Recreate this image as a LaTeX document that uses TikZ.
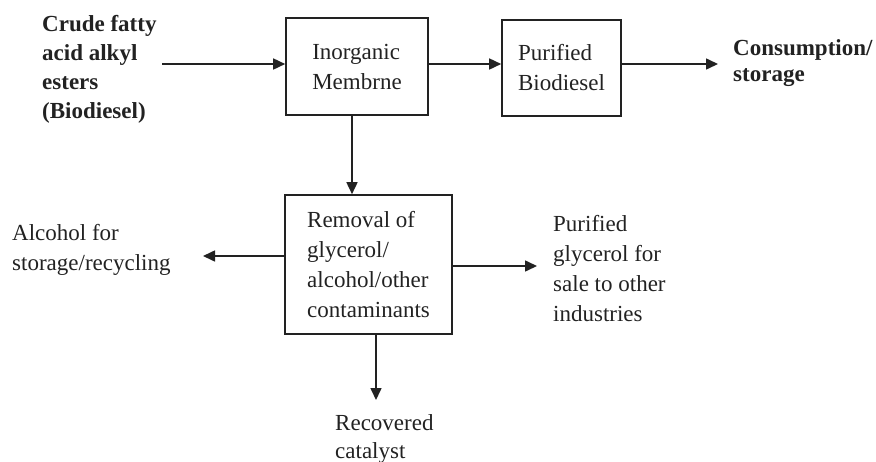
\documentclass[tikz,border=0pt]{standalone}
\usepackage{fontspec}
\setmainfont{Liberation Serif}
\usetikzlibrary{arrows.meta,calc}
\definecolor{ink}{HTML}{222222}
\begin{document}
\begin{tikzpicture}[x=1pt,y=-1pt,
  every node/.style={text=ink},
  box/.style={draw=ink,line width=1.6pt,inner sep=0pt,align=left,font=\fontsize{23}{30}\selectfont},
  lbl/.style={inner sep=0pt,align=left,anchor=west},
  arr/.style={draw=ink,line width=1.6pt,-{Triangle[length=12pt,width=11pt]}}]
\useasboundingbox (0,0) rectangle (876,461);
% boxes
\node[box,minimum width=142pt,minimum height=97pt] (b1) at (357,66.5) {Inorganic\\Membrne};
\node[box,minimum width=119pt,minimum height=96pt] (b2) at (561.5,68) {Purified\\Biodiesel};
\node[box,minimum width=167pt,minimum height=139pt] (b3) at (368.5,264.5) {Removal of\\glycerol/\\alcohol/other\\contaminants};
% labels
\node[lbl,font=\bfseries\fontsize{23}{29}\selectfont] (crude) at (42,69) {Crude fatty\\acid alkyl\\esters\\(Biodiesel)};
\node[lbl,font=\bfseries\fontsize{23}{26}\selectfont] (cons) at (733,63) {Consumption/\\storage};
\node[lbl,font=\fontsize{23}{30}\selectfont] (alc) at (12,249.7) {Alcohol for\\storage/recycling};
\node[lbl,font=\fontsize{23}{30}\selectfont] (gly) at (553,269) {Purified\\glycerol for\\sale to other\\industries};
\node[lbl,font=\fontsize{23}{28}\selectfont] (cat) at (335,439) {Recovered\\catalyst};
% connector ends
\coordinate (cin) at (162,64);
\coordinate (cout) at (718,64);
\coordinate (d1) at (352,0);
\coordinate (calc1) at (203,256);
\coordinate (cgly) at (537,266);
\coordinate (ccat) at (376,400);
% connectors
\draw[arr] (cin) -- (cin -| b1.west);
\draw[arr] (cin -| b1.east) -- (cin -| b2.west);
\draw[arr] (cin -| b2.east) -- (cout);
\draw[arr] (d1 |- b1.south) -- (d1 |- b3.north);
\draw[arr] (calc1 -| b3.west) -- (calc1);
\draw[arr] (cgly -| b3.east) -- (cgly);
\draw[arr] (ccat |- b3.south) -- (ccat);
\end{tikzpicture}
\end{document}
